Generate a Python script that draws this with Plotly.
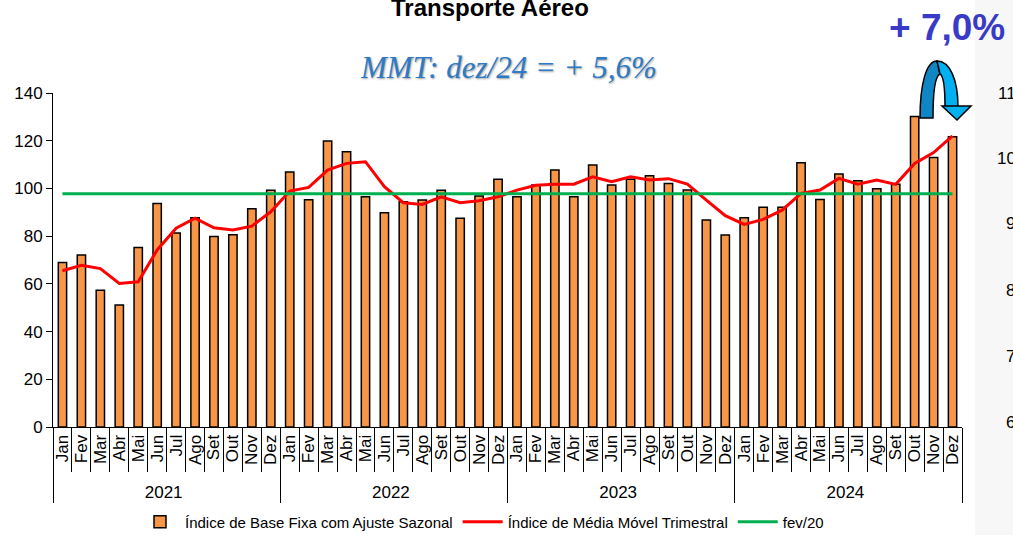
import plotly.graph_objects as go

months = ["Jan", "Fev", "Mar", "Abr", "Mai", "Jun", "Jul", "Ago", "Set", "Out", "Nov", "Dez"]
years = ["2021", "2022", "2023", "2024"]

indice_base_fixa = [
    69.0, 72.1, 57.3, 51.1, 75.2, 93.7, 81.3, 87.7, 79.8, 80.6, 91.5, 99.2,
    106.9, 95.3, 119.9, 115.4, 96.5, 89.8, 94.4, 95.1, 99.2, 87.5, 96.8, 103.8,
    96.5, 101.4, 107.7, 96.5, 109.8, 101.4, 103.8, 105.3, 102.1, 99.3, 86.8, 80.5,
    87.7, 92.1, 92.1, 110.8, 95.4, 106.0, 103.2, 99.9, 101.8, 130.1, 113.0, 121.7,
]
media_movel = [
    65.5, 67.8, 66.4, 60.2, 60.9, 74.2, 83.3, 87.5, 83.5, 82.6, 84.2, 90.2,
    98.9, 100.4, 107.7, 110.5, 111.2, 100.7, 94.0, 93.3, 96.5, 94.0, 94.8, 96.5,
    99.3, 101.3, 101.8, 101.8, 104.9, 102.8, 104.9, 103.5, 104.1, 101.8, 95.1, 88.6,
    84.9, 87.0, 90.9, 97.9, 99.3, 104.2, 101.8, 103.5, 101.7, 110.5, 115.0, 122.0,
]
fev20_level = 97.8
fev20 = [fev20_level] * 48

x_years = [y for y in years for _ in months]
x_months = months * len(years)

FONT = "Liberation Sans, Arial, sans-serif"

# page geometry (pixels) -> paper coordinates helpers
L, R, T, B = 53, 962, 93, 427
W, H = 1013, 535

def px(x):
    return (x - L) / (R - L)

def py(y):
    return (B - y) / (B - T)

fig = go.Figure()
fig.add_trace(go.Bar(
    x=[x_years, x_months], y=indice_base_fixa,
    name="Índice de Base Fixa com Ajuste Sazonal",
    marker=dict(color="#F79646", line=dict(color="#000000", width=1.5)),
))
fig.add_trace(go.Scatter(
    x=[x_years, x_months], y=media_movel, mode="lines",
    name="Índice de Média Móvel Trimestral",
    line=dict(color="#FF0000", width=3),
))
fig.add_trace(go.Scatter(
    x=[x_years, x_months], y=fev20, mode="lines",
    name="fev/20",
    line=dict(color="#00B050", width=3),
))

def pt(a, b):
    return f"{px(a):.5f},{py(b):.5f}"

left_half = (f"M {pt(920,118)} C {pt(920,85)} {pt(926,61)} {pt(937,61)} "
             f"L {pt(940,74)} C {pt(935,76)} {pt(933,92)} {pt(933,118)} Z")
right_half = (f"M {pt(937,61)} C {pt(950,61)} {pt(958,80)} {pt(958,107)} "
              f"L {pt(945,107)} C {pt(945,90)} {pt(944,76)} {pt(940,74)} Z")
head = f"M {pt(942,106)} L {pt(971,106)} L {pt(957,120)} Z"

shapes = [
    dict(type="rect", xref="paper", yref="paper", x0=px(975), x1=px(1030),
         y0=py(560), y1=py(-20), fillcolor="#F7F7F7", line=dict(width=0), layer="below"),
    dict(type="path", xref="paper", yref="paper", path=left_half,
         fillcolor="#0F86C3", line=dict(color="#000000", width=1.5)),
    dict(type="path", xref="paper", yref="paper", path=right_half,
         fillcolor="#00B0F0", line=dict(color="#000000", width=1.5)),
    dict(type="path", xref="paper", yref="paper", path=head,
         fillcolor="#00B0F0", line=dict(color="#000000", width=1.5)),
]

annotations = [
    dict(text="<b>Transporte Aéreo</b>", xref="paper", yref="paper",
         x=px(490), y=py(23), xanchor="center", yanchor="bottom", showarrow=False,
         font=dict(family=FONT, size=24, color="#000000")),
    dict(text="<i>MMT: dez/24 = + 5,6%</i>", xref="paper", yref="paper",
         x=px(508), y=py(68), xanchor="center", yanchor="middle", showarrow=False,
         font=dict(family="Liberation Serif, DejaVu Serif, serif", size=31, color="#2E7AC6",
                   shadow="1px 1px 2px #9a9a9a")),
    dict(text="<b>+ 7,0%</b>", xref="paper", yref="paper",
         x=px(947), y=py(27), xanchor="center", yanchor="middle", showarrow=False,
         font=dict(family=FONT, size=37, color="#3A3AC8")),
]
for lbl, yy in [("110", 93), ("100", 158), ("90", 223), ("80", 290), ("70", 356), ("60", 422)]:
    annotations.append(dict(text=lbl, xref="paper", yref="paper", x=px(1027), y=py(yy),
                            xanchor="right", yanchor="middle", showarrow=False,
                            font=dict(family=FONT, size=17, color="#000000")))

fig.update_layout(
    width=W, height=H,
    margin=dict(l=L, r=W - R, t=T, b=H - B, autoexpand=False),
    paper_bgcolor="#FFFFFF", plot_bgcolor="#FFFFFF",
    bargap=0.56,
    showlegend=True,
    legend=dict(orientation="h", x=px(482), xanchor="center", yref="container",
                y=1 - 522 / H, yanchor="middle",
                font=dict(family=FONT, size=15, color="#000000"), traceorder="normal",
                itemwidth=40, bgcolor="rgba(0,0,0,0)"),
    shapes=shapes,
    annotations=annotations,
    font=dict(family=FONT, color="#000000"),
)
fig.update_yaxes(range=[0, 140], dtick=20, ticks="outside", ticklen=6, tickcolor="#000000",
                 showline=True, linecolor="#000000", linewidth=1, showgrid=False, zeroline=False,
                 automargin=False,
                 tickfont=dict(family=FONT, size=17, color="#000000"))
fig.update_xaxes(type="multicategory", tickangle=-90, ticks="outside", ticklen=44,
                 tickmode="linear", dtick=1, automargin=False,
                 tickcolor="#000000", showline=True, linecolor="#000000", linewidth=1,
                 showgrid=False, showdividers=True, dividercolor="#000000", dividerwidth=1,
                 tickfont=dict(family=FONT, size=17, color="#000000"))

fig.write_html(
    "out.html",
    config={"displayModeBar": False},
    post_script="document.body.style.margin='0px';document.body.style.overflow='hidden';",
)
